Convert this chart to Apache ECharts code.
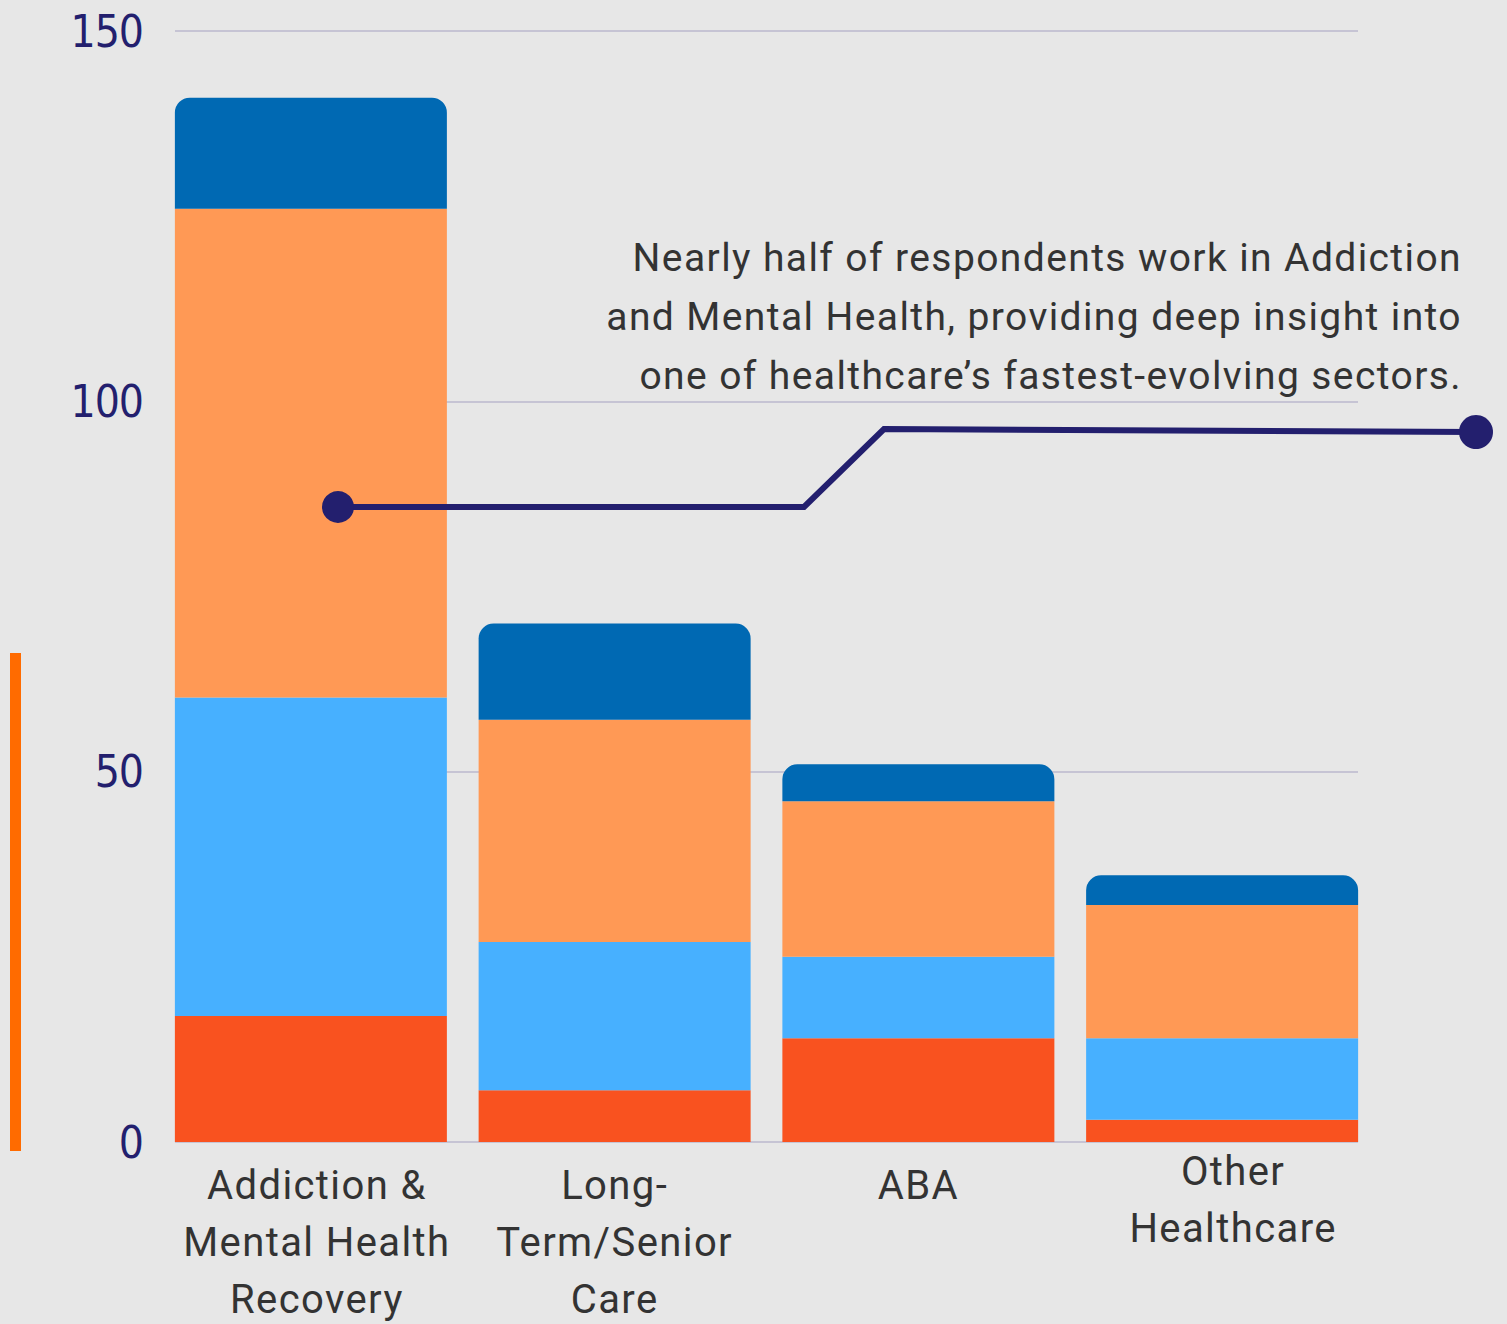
<!DOCTYPE html>
<html>
<head>
<meta charset="utf-8">
<script src="https://cdn.jsdelivr.net/npm/echarts@6/dist/echarts.min.js"></script>
<style>
  html, body { margin: 0; padding: 0; background: #E7E7E7; }
  #chart { width: 1507px; height: 1324px; }
  #chart svg text { letter-spacing: 1.4px; }
  #chart svg text[fill="#231F6E"], #chart svg text[fill="#231f6e"] { letter-spacing: -1px; }
</style>
</head>
<body>
<div id="chart"></div>
<script>
// Respondents by sector, stacked by segment
const categories = [
  'Addiction &\nMental Health\nRecovery',
  'Long-\nTerm/Senior\nCare',
  'ABA',
  'Other\nHealthcare'
];
const segRed = [17, 7, 14, 3];
const segLightBlue = [43, 20, 11, 11];
const segOrange = [66, 30, 21, 18];
const segDarkBlue = [15, 13, 5, 4];
const yTicks = [0, 50, 100, 150];

const noteLines = [
  'Nearly half of respondents work in Addiction',
  'and Mental Health, providing deep insight into',
  'one of healthcare\u2019s fastest-evolving sectors.'
];

const chart = echarts.init(document.getElementById('chart'), null, { renderer: 'svg' });

const navy = '#231F6E';

function seg(name, data, color, top) {
  return {
    name: name,
    type: 'bar',
    stack: 'total',
    xAxisIndex: 1,
    yAxisIndex: 1,
    data: data,
    barWidth: 272,
    itemStyle: { color: color, borderRadius: top ? [15, 15, 0, 0] : 0 },
    emphasis: { disabled: true }
  };
}

const noteGraphics = noteLines.map((t, i) => ({
  type: 'text',
  x: 1462,
  y: 258 + i * 59,
  style: {
    text: t,
    font: '39px Roboto',
    fill: '#333333',
    textAlign: 'right',
    textVerticalAlign: 'middle'
  },
  z: 10
}));

const yRange = { min: yTicks[0], max: yTicks[yTicks.length - 1], interval: 50 };

chart.setOption({
  backgroundColor: '#E7E7E7',
  animation: false,
  grid: [
    // gridlines and value labels
    { left: 175, right: 149, top: 31, bottom: 182, containLabel: false, outerBoundsMode: 'none' },
    // stacked bars and category labels
    { left: 159, right: 133, top: 31, bottom: 182, containLabel: false, outerBoundsMode: 'none' }
  ],
  xAxis: [
    { type: 'category', gridIndex: 0, data: categories, show: false },
    {
      type: 'category',
      gridIndex: 1,
      data: categories.map((c, i) => {
        if (i === 0) return { value: c, textStyle: { padding: [0, 0, 0, 12] } };
        if (i === 3) return { value: c, textStyle: { padding: [-14, 0, 0, 22] } };
        return c;
      }),
      axisLine: { show: false },
      axisTick: { show: false },
      axisLabel: {
        interval: 0,
        margin: 15,
        color: '#333333',
        fontFamily: 'Roboto',
        fontSize: 40,
        lineHeight: 57
      }
    }
  ],
  yAxis: [
    {
      type: 'value',
      gridIndex: 0,
      min: yRange.min,
      max: yRange.max,
      interval: yRange.interval,
      axisLine: { show: false },
      axisTick: { show: false },
      splitLine: { lineStyle: { color: '#C6C4D4', width: 2 } },
      axisLabel: {
        margin: 32,
        color: navy,
        fontFamily: '"Liberation Sans Narrow", "DejaVu Sans Condensed", sans-serif',
        fontSize: 44
      }
    },
    {
      type: 'value',
      gridIndex: 1,
      min: yRange.min,
      max: yRange.max,
      interval: yRange.interval,
      show: false,
      splitLine: { show: false }
    }
  ],
  series: [
    seg('Red', segRed, '#F9521F', false),
    seg('Light blue', segLightBlue, '#47B0FF', false),
    seg('Orange', segOrange, '#FF9955', false),
    seg('Dark blue', segDarkBlue, '#0069B3', true)
  ],
  graphic: [
    {
      type: 'rect',
      shape: { x: 10, y: 653, width: 11, height: 498 },
      style: { fill: '#FF6B00' },
      z: 5
    },
    {
      type: 'polyline',
      shape: { points: [[338, 507], [804, 507], [884, 429], [1476, 432]] },
      style: { stroke: navy, lineWidth: 6, fill: null },
      z: 10
    },
    { type: 'circle', shape: { cx: 338, cy: 507, r: 16 }, style: { fill: navy }, z: 11 },
    { type: 'circle', shape: { cx: 1476, cy: 432, r: 17 }, style: { fill: navy }, z: 11 }
  ].concat(noteGraphics)
});
</script>
</body>
</html>
